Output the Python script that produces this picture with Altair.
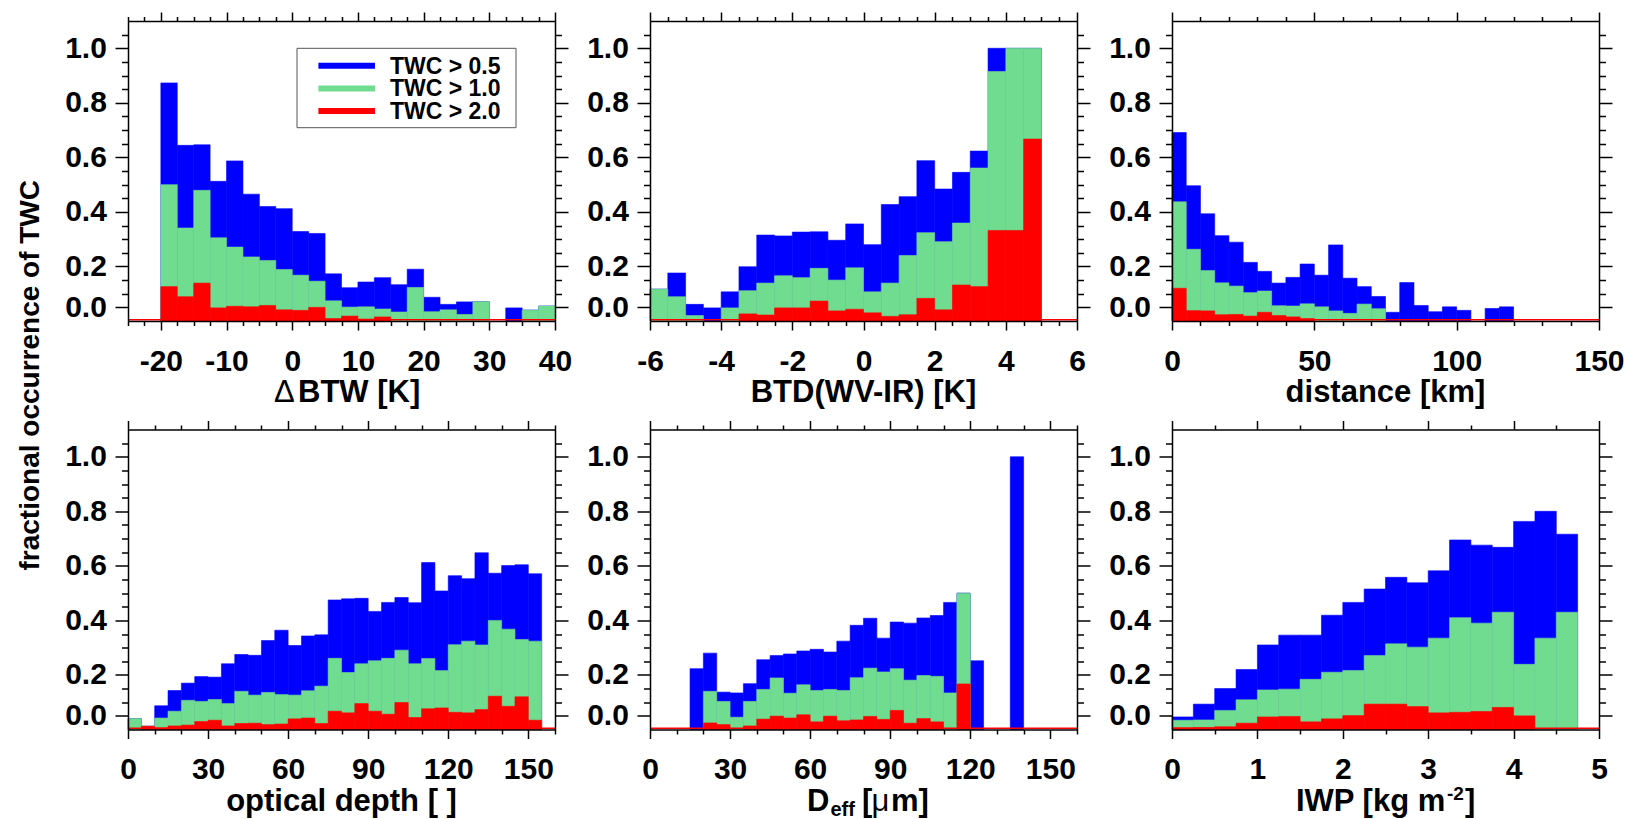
import altair as alt
import pandas as pd

FONT = "Liberation Sans"
SERIES = ["TWC > 0.5", "TWC > 1.0", "TWC > 2.0"]
COLORS = ["#0000ff", "#70dc90", "#ff0000"]

# ---- panel 1: delta BTW [K], bins of 2.5 K starting at -20
btw_lo, btw_w = -20.0, 2.5
btw_blue = [0.873, 0.644, 0.646, 0.512, 0.587, 0.465, 0.420, 0.412, 0.328, 0.321, 0.173, 0.122,
            0.143, 0.159, 0.133, 0.190, 0.087, 0.061, 0.070, 0.071, 0.0, 0.048, 0.040, 0.055]
btw_green = [0.500, 0.341, 0.479, 0.305, 0.271, 0.235, 0.222, 0.189, 0.168, 0.146, 0.074, 0.051,
             0.052, 0.044, 0.033, 0.123, 0.034, 0.041, 0.024, 0.071, 0.0, 0.0, 0.040, 0.055]
btw_red = [0.126, 0.089, 0.139, 0.048, 0.054, 0.052, 0.057, 0.041, 0.039, 0.050, 0.009, 0.018,
           0.007, 0.015, 0.0, 0.0, 0.0, 0.0, 0.0, 0.0, 0.0, 0.0, 0.0, 0.0]

# ---- panel 2: BTD(WV-IR) [K], bins of 0.5 K starting at -6
btd_lo, btd_w = -6.0, 0.5
btd_blue = [0.117, 0.176, 0.061, 0.048, 0.107, 0.199, 0.315, 0.312, 0.326, 0.327, 0.296,
            0.356, 0.280, 0.427, 0.456, 0.588, 0.484, 0.545, 0.623, 1.0, 1.0, 1.0]
btd_green = [0.117, 0.089, 0.020, 0.0, 0.048, 0.111, 0.139, 0.166, 0.159, 0.193, 0.150,
             0.195, 0.107, 0.139, 0.240, 0.324, 0.291, 0.359, 0.561, 0.915, 1.0, 1.0]
btd_red = [0.0, 0.0, 0.0, 0.0, 0.0, 0.026, 0.022, 0.048, 0.048, 0.073, 0.037,
           0.043, 0.030, 0.017, 0.023, 0.083, 0.041, 0.132, 0.126, 0.332, 0.332, 0.667]

# ---- panel 3: distance [km], bins of 5 km starting at 0
dist_lo, dist_w = 0.0, 5.0
dist_blue = [0.691, 0.496, 0.393, 0.313, 0.289, 0.215, 0.182, 0.139, 0.160, 0.209, 0.168, 0.279,
             0.157, 0.126, 0.090, 0.032, 0.141, 0.057, 0.034, 0.052, 0.039, 0.0, 0.046, 0.052]
dist_green = [0.437, 0.263, 0.185, 0.140, 0.128, 0.104, 0.110, 0.056, 0.055, 0.063, 0.052, 0.037,
              0.028, 0.062, 0.045, 0.0, 0.0, 0.0, 0.0, 0.0, 0.0, 0.0, 0.0, 0.0]
dist_red = [0.120, 0.038, 0.037, 0.023, 0.024, 0.018, 0.032, 0.020, 0.015, 0.009, 0.0, 0.0,
            0.0, 0.0, 0.0, 0.0, 0.0, 0.0, 0.0, 0.0, 0.0, 0.0, 0.0, 0.0]

# ---- panel 4: optical depth, bins of 5 starting at 0
tau_lo, tau_w = 0.0, 5.0
tau_blue = [0.040, 0.012, 0.087, 0.143, 0.170, 0.194, 0.192, 0.241, 0.275, 0.272, 0.326, 0.364,
            0.308, 0.343, 0.347, 0.475, 0.479, 0.481, 0.433, 0.466, 0.484, 0.465, 0.612, 0.508,
            0.564, 0.553, 0.648, 0.573, 0.601, 0.604, 0.571]
tau_green = [0.040, 0.012, 0.042, 0.067, 0.107, 0.103, 0.110, 0.095, 0.140, 0.126, 0.136, 0.128,
             0.126, 0.142, 0.159, 0.261, 0.209, 0.241, 0.252, 0.261, 0.291, 0.241, 0.260, 0.216,
             0.311, 0.324, 0.310, 0.400, 0.368, 0.330, 0.324]
tau_red = [0.0, 0.012, 0.006, 0.013, 0.016, 0.029, 0.034, 0.013, 0.022, 0.023, 0.018, 0.020,
           0.039, 0.042, 0.022, 0.067, 0.061, 0.095, 0.067, 0.056, 0.099, 0.044, 0.076, 0.079,
           0.063, 0.061, 0.073, 0.122, 0.085, 0.120, 0.034]

# ---- panel 5: D_eff [um], bins of 5 um starting at 15
deff_lo, deff_w = 15.0, 5.0
deff_blue = [0.223, 0.280, 0.137, 0.134, 0.168, 0.256, 0.271, 0.277, 0.288, 0.294, 0.284, 0.324,
             0.382, 0.408, 0.335, 0.394, 0.390, 0.409, 0.418, 0.466, 0.500, 0.252, 0.0, 0.0, 1.0]
deff_green = [0.0, 0.140, 0.103, 0.045, 0.103, 0.147, 0.189, 0.133, 0.164, 0.143, 0.147, 0.143,
              0.190, 0.225, 0.211, 0.223, 0.181, 0.198, 0.195, 0.134, 0.500, 0.0, 0.0, 0.0, 0.0]
deff_red = [0.0, 0.024, 0.018, 0.0, 0.013, 0.038, 0.049, 0.042, 0.054, 0.028, 0.049, 0.032,
            0.035, 0.048, 0.037, 0.070, 0.023, 0.040, 0.028, 0.0, 0.167, 0.0, 0.0, 0.0, 0.0]

# ---- panel 6: IWP [kg m-2], bins of 0.25 starting at 0
iwp_lo, iwp_w = 0.0, 0.25
iwp_blue = [0.046, 0.093, 0.150, 0.220, 0.310, 0.346, 0.346, 0.419, 0.466, 0.515, 0.558, 0.538,
            0.582, 0.695, 0.676, 0.668, 0.763, 0.800, 0.716]
iwp_green = [0.034, 0.035, 0.070, 0.109, 0.145, 0.148, 0.184, 0.210, 0.216, 0.271, 0.314, 0.302,
             0.335, 0.410, 0.390, 0.430, 0.239, 0.335, 0.430]
iwp_red = [0.006, 0.007, 0.010, 0.023, 0.046, 0.048, 0.028, 0.039, 0.051, 0.093, 0.093, 0.084,
           0.061, 0.063, 0.066, 0.081, 0.050, 0.0, 0.0]

Y_TITLE = "fractional occurrence of TWC"

# title pieces: (text, baseline shift, font size, x start, weight)
PANELS = [
    dict(lo=btw_lo, w=btw_w, vals=(btw_blue, btw_green, btw_red), dom=(-25, 40), step=2.5,
         major="abs(datum.value % 10) < 0.001",
         title=[("Δ", 0, 31, 146, "normal"), ("BTW [K]", 0, 31, 170, "bold")]),
    dict(lo=btd_lo, w=btd_w, vals=(btd_blue, btd_green, btd_red), dom=(-6, 6), step=0.5,
         major="abs(datum.value % 2) < 0.001", title=[("BTD(WV-IR) [K]", 0, 31, None, "bold")]),
    dict(lo=dist_lo, w=dist_w, vals=(dist_blue, dist_green, dist_red), dom=(0, 150), step=10,
         major="abs(datum.value % 50) < 0.001", title=[("distance [km]", 0, 31, None, "bold")]),
    dict(lo=tau_lo, w=tau_w, vals=(tau_blue, tau_green, tau_red), dom=(0, 160), step=10,
         major="abs(datum.value % 30) < 0.001",
         title=[("optical depth [ ]", 0, 31, None, "bold")]),
    dict(lo=deff_lo, w=deff_w, vals=(deff_blue, deff_green, deff_red), dom=(0, 160), step=10,
         major="abs(datum.value % 30) < 0.001",
         title=[("D", 0, 31, 157, "bold"), ("eff", 5, 20, 180.5, "bold"),
                ("[", 0, 31, 212, "bold"), ("μ", 0, 31, 221.5, "normal"),
                ("m]", 0, 31, 241, "bold")]),
    dict(lo=iwp_lo, w=iwp_w, vals=(iwp_blue, iwp_green, iwp_red), dom=(0, 5), step=0.5,
         major="abs(datum.value % 1) < 0.001",
         title=[("IWP [kg m", 0, 31, 124, "bold"), ("-2", -11, 19, 275, "bold"),
                ("]", 0, 31, 293, "bold")]),
]

W, H = 427, 300
ROW_GAP, COL_GAP = 108.5, 95
TITLE_BASE = 381

Y_VALS = [round(0.05 * i, 2) for i in range(1, 22)]
Y_MAJOR = "round(datum.value*20) == 1 || round(datum.value*20) % 4 == 0"
Y_LABEL = ("round(datum.value*20) == 1 ? '0.0' : "
           "(round(datum.value*20) % 4 == 0 ? format(datum.value, '.1f') : '')")

ONE = pd.DataFrame({"z": [0]})


def x_axis(vals, major, orient, labels):
    kw = dict(orient=orient, values=vals, title=None, grid=False, domainColor="black",
              domainWidth=1.5, tickColor="black", tickWidth=1.5,
              tickSize={"condition": {"test": major, "value": 9}, "value": 4.5}, zindex=1)
    if labels:
        kw.update(labels=True, labelExpr=f"({major}) ? toString(datum.value) : ''",
                  labelFont=FONT, labelFontSize=30, labelFontWeight="bold", labelColor="black",
                  labelPadding=40, labelBaseline="alphabetic", labelOverlap=False,
                  labelFlush=False, labelBound=False)
    else:
        kw.update(labels=False)
    return alt.Axis(**kw)


def y_axis(orient, labels):
    kw = dict(orient=orient, values=Y_VALS, title=None, grid=False, domainColor="black",
              domainWidth=1.5, tickColor="black", tickWidth=1.5,
              tickSize={"condition": {"test": Y_MAJOR, "value": 13}, "value": 6.5}, zindex=1)
    if labels:
        kw.update(labels=True, labelExpr=Y_LABEL, labelFont=FONT, labelFontSize=30,
                  labelFontWeight="bold", labelColor="black", labelPadding=8.6,
                  labelOverlap=False, labelFlush=False, labelBound=False)
    else:
        kw.update(labels=False)
    return alt.Axis(**kw)


def legend_layers():
    out = [alt.Chart(ONE).mark_rect(fill="white", stroke="#555555", strokeWidth=1).encode(
        x=alt.value(169), x2=alt.value(388), y=alt.value(27.3), y2=alt.value(106.7))]
    for r, (name, col) in enumerate(zip(SERIES, COLORS)):
        yc = 44.7 + 22.7 * r
        out.append(alt.Chart(ONE).mark_rule(color=col, strokeWidth=6).encode(
            x=alt.value(190.4), x2=alt.value(247), y=alt.value(yc)))
        out.append(alt.Chart(pd.DataFrame({"t": [name]})).mark_text(
            font=FONT, fontSize=23, fontWeight="bold", color="black", align="left",
            baseline="middle").encode(x=alt.value(262), y=alt.value(yc + 1), text="t:N"))
    return out


def make_panel(i, p):
    rows = []
    for k, (name, vals) in enumerate(zip(SERIES, p["vals"])):
        for j, v in enumerate(vals):
            if v > 0:
                rows.append({"x0": p["lo"] + j * p["w"], "x1": p["lo"] + (j + 1) * p["w"],
                             "v": v, "series": name, "k": k})
    df = pd.DataFrame(rows)
    lo, hi = p["dom"]
    n = int(round((hi - lo) / p["step"]))
    xvals = [round(lo + p["step"] * m, 4) for m in range(n + 1)]
    xs = alt.Scale(domain=[lo, hi], nice=False, zero=False)
    ys = alt.Scale(domain=[0, 1.1], nice=False, zero=False)
    cs = alt.Scale(domain=SERIES, range=COLORS)

    bars = alt.Chart(df).mark_rect(strokeWidth=0.6).encode(
        x=alt.X("x0:Q", scale=xs, axis=x_axis(xvals, p["major"], "bottom", True)),
        x2="x1:Q",
        y=alt.Y("v:Q", scale=ys, axis=y_axis("left", True)),
        y2=alt.datum(0),
        color=alt.Color("series:N", scale=cs, legend=None),
        stroke=alt.Stroke("series:N", scale=cs, legend=None),
        order=alt.Order("k:Q"),
    )

    rule = alt.Chart(ONE).mark_rule(color="red", strokeWidth=1.5, yOffset=-1.2).encode(
        x=alt.XDatum(lo, type="quantitative", scale=xs,
                     axis=x_axis(xvals, p["major"], "top", False)),
        x2=alt.X2Datum(hi),
        y=alt.YDatum(0, type="quantitative", scale=ys, axis=y_axis("right", False)),
    )

    layers = [bars, rule]
    for txt, dy, size, xpos, weight in p["title"]:
        align = "left"
        if xpos is None:
            xpos, align = W / 2, "center"
        layers.append(
            alt.Chart(pd.DataFrame({"t": [txt]})).mark_text(
                font=FONT, fontSize=size, fontWeight=weight, color="black",
                align=align, baseline="alphabetic").encode(
                x=alt.value(xpos), y=alt.value(TITLE_BASE + dy), text="t:N")
        )
    if i == 0:
        layers += legend_layers()
        # shared y title, centred on the two rows
        layers.append(
            alt.Chart(pd.DataFrame({"t": [Y_TITLE]})).mark_text(
                font=FONT, fontSize=28, fontWeight="bold", color="black", angle=270,
                align="center", baseline="alphabetic").encode(
                x=alt.value(-88.6), y=alt.value((2 * H + ROW_GAP) / 2), text="t:N"))
    return alt.layer(*layers).resolve_axis(x="independent", y="independent").properties(
        width=W, height=H)


panels = [make_panel(i, p) for i, p in enumerate(PANELS)]

chart = alt.concat(*panels, columns=3, spacing={"row": ROW_GAP, "column": COL_GAP},
                   bounds="flush").resolve_scale(
    color="independent", stroke="independent").properties(
    padding={"left": 17, "top": 11, "right": 0, "bottom": 0},
    background="white",
).configure_view(stroke=None)

chart.save("out.html", embed_options={"renderer": "svg", "actions": False})
